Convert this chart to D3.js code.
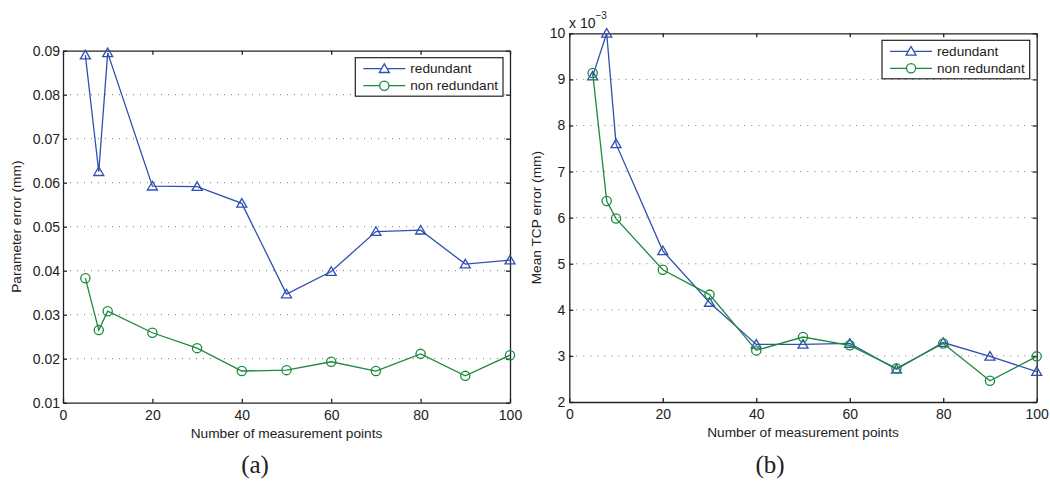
<!DOCTYPE html>
<meta charset="utf-8">
<script src="https://d3js.org/d3.v7.min.js"></script>
<style>
  body { margin: 0; background: #fff; }
  svg { display: block; font-family: 'Liberation Sans', Arial, sans-serif; }
  .tick text { font-size: 14px; fill: #222; }
</style>
<body>
<div id="chart"></div>
<script>

// data
var nPoints = [5, 8, 10, 20, 30, 40, 50, 60, 70, 80, 90, 100];
var paramRedundant = [0.0890, 0.0625, 0.0895, 0.0592, 0.0591, 0.0553, 0.0347, 0.0398, 0.0489, 0.0492, 0.0415, 0.0424];
var paramNonRedundant = [0.0383, 0.0265, 0.0308, 0.0259, 0.0224, 0.0172, 0.0174, 0.0193, 0.0172, 0.0211, 0.0161, 0.0208];
// TCP error in units of 1e-3 mm
var tcpRedundant = [9.07, 10.0, 7.6, 5.28, 4.16, 3.25, 3.25, 3.27, 2.71, 3.29, 2.99, 2.66];
var tcpNonRedundant = [9.14, 6.36, 5.98, 4.87, 4.33, 3.12, 3.41, 3.23, 2.73, 3.27, 2.46, 2.99];
var seriesNames = ["redundant", "non redundant"];
var xTicks = [0, 20, 40, 60, 80, 100];
var paramTicks = [0.01, 0.02, 0.03, 0.04, 0.05, 0.06, 0.07, 0.08, 0.09];
var tcpTicks = [2, 3, 4, 5, 6, 7, 8, 9, 10];

var width = 1050,
    height = 481;

var blue = "#3050b0",
    green = "#1b8a3c";

var svg = d3.select("#chart")
  .append("svg")
    .attr("width", width)
    .attr("height", height);

svg.append("rect")
  .attr("width", width)
  .attr("height", height)
  .attr("fill", "#fff");

var triangle = "M0,-4.8L5,3.8L-5,3.8Z";

function drawPanel(p) {
  var x = d3.scaleLinear().domain([0, 100]).range([p.x0, p.x1]);
  var y = d3.scaleLinear().domain(p.yDomain).range([p.y1, p.y0]);
  var g = svg.append("g");

  // dotted grid
  g.selectAll(".grid")
    .data(p.yTicks.slice(1, -1))
    .enter()
    .append("line")
      .attr("x1", p.x0)
      .attr("x2", p.x1)
      .attr("y1", function(d) { return y(d); })
      .attr("y2", function(d) { return y(d); })
      .attr("stroke", "#777")
      .attr("stroke-width", 1)
      .attr("stroke-dasharray", "1,6");

  var axes = [
    d3.axisBottom(x).tickValues(xTicks).tickSize(-4).tickSizeOuter(0).tickPadding(7).tickFormat(d3.format("d")),
    d3.axisTop(x).tickValues(xTicks).tickSize(-4).tickSizeOuter(0).tickFormat(""),
    d3.axisLeft(y).tickValues(p.yTicks).tickSize(-4).tickSizeOuter(0).tickPadding(p.yPad).tickFormat(p.yFormat),
    d3.axisRight(y).tickValues(p.yTicks).tickSize(-4).tickSizeOuter(0).tickFormat("")
  ];
  var shifts = [[0, p.y1], [0, p.y0], [p.x0, 0], [p.x1, 0]];
  axes.forEach(function(a, i) {
    var ag = g.append("g")
      .attr("transform", "translate(" + shifts[i] + ")")
      .call(a)
      .attr("font-family", null)
      .attr("font-size", null);
    ag.selectAll("path, line").attr("stroke", "#222").attr("stroke-width", 1.3);
  });

  var line = d3.line()
    .x(function(d, i) { return x(nPoints[i]); })
    .y(function(d) { return y(d); });

  // series lines and markers
  [[p.redundant, blue, "tri"], [p.nonRedundant, green, "circ"]].forEach(function(s) {
    g.append("path")
      .datum(s[0])
      .attr("d", line)
      .attr("fill", "none")
      .attr("stroke", s[1])
      .attr("stroke-width", 1.3);
    var m = g.selectAll(".m-" + s[2])
      .data(s[0])
      .enter();
    if (s[2] == "tri") {
      m.append("path")
        .attr("d", triangle)
        .attr("transform", function(d, i) { return "translate(" + x(nPoints[i]) + "," + y(d) + ")"; })
        .attr("fill", "none")
        .attr("stroke", s[1])
        .attr("stroke-width", 1.3);
    } else {
      m.append("circle")
        .attr("cx", function(d, i) { return x(nPoints[i]); })
        .attr("cy", function(d) { return y(d); })
        .attr("r", 4.6)
        .attr("fill", "none")
        .attr("stroke", s[1])
        .attr("stroke-width", 1.3);
    }
  });

  // axis labels
  g.append("text")
    .attr("x", (p.x0 + p.x1) / 2)
    .attr("y", p.y1 + 35)
    .attr("text-anchor", "middle")
    .style("font-size", "13.7px")
    .attr("fill", "#222")
    .text("Number of measurement points");

  g.append("text")
    .attr("transform", "translate(" + p.labelX + "," + ((p.y0 + p.y1) / 2) + ") rotate(-90)")
    .attr("text-anchor", "middle")
    .style("font-size", "13.7px")
    .attr("fill", "#222")
    .text(p.yLabel);

  g.append("text")
    .attr("x", p.captionX)
    .attr("y", 473)
    .attr("text-anchor", "middle")
    .style("font-family", "'Liberation Serif', serif")
    .style("font-size", "25px")
    .attr("fill", "#222")
    .text(p.caption);

  // legend
  var lg = g.append("g");
  var box = lg.append("rect")
    .attr("fill", "#fff")
    .attr("stroke", "#222")
    .attr("stroke-width", 1.2);
  var lx = 8, rowH = 17;
  var maxW = 0;
  seriesNames.forEach(function(name, i) {
    var ry = 11 + i * rowH;
    var col = i == 0 ? blue : green;
    lg.append("line")
      .attr("x1", lx).attr("x2", lx + 42)
      .attr("y1", ry).attr("y2", ry)
      .attr("stroke", col).attr("stroke-width", 1.3);
    if (i == 0) {
      lg.append("path").attr("d", triangle)
        .attr("transform", "translate(" + (lx + 21) + "," + ry + ")")
        .attr("fill", "#fff").attr("stroke", col).attr("stroke-width", 1.3);
    } else {
      lg.append("circle").attr("cx", lx + 21).attr("cy", ry).attr("r", 4.6)
        .attr("fill", "#fff").attr("stroke", col).attr("stroke-width", 1.3);
    }
    var t = lg.append("text")
      .attr("x", lx + 47)
      .attr("y", ry)
      .attr("dy", "0.35em")
      .style("font-size", "13.6px")
      .attr("fill", "#222")
      .text(name);
    maxW = Math.max(maxW, t.node().getComputedTextLength());
  });
  var bw = lx + 47 + maxW + 5;
  box.attr("width", bw).attr("height", 38.5);
  lg.attr("transform", "translate(" + (p.x1 - 7 - bw) + "," + (p.y0 + 7) + ")");

  return g;
}

drawPanel({
  x0: 63, x1: 510, y0: 50.7, y1: 402.7,
  yDomain: [0.01, 0.09], yTicks: paramTicks, yPad: 3,
  yFormat: d3.format(".2f"),
  redundant: paramRedundant, nonRedundant: paramNonRedundant,
  yLabel: "Parameter error (mm)", labelX: 21,
  caption: "(a)", captionX: 255
});

var gb = drawPanel({
  x0: 569.3, x1: 1036.7, y0: 33.3, y1: 402,
  yDomain: [2, 10], yTicks: tcpTicks, yPad: 4,
  yFormat: d3.format("d"),
  redundant: tcpRedundant, nonRedundant: tcpNonRedundant,
  yLabel: "Mean TCP error (mm)", labelX: 541,
  caption: "(b)", captionX: 770
});

// exponent for right axis
var ex = gb.append("text")
  .attr("x", 569)
  .attr("y", 28)
  .style("font-size", "14px")
  .attr("fill", "#222");
ex.append("tspan").text("x 10");
ex.append("tspan").attr("dy", -9).style("font-size", "10px").text("\u22123");

</script>
</body>
